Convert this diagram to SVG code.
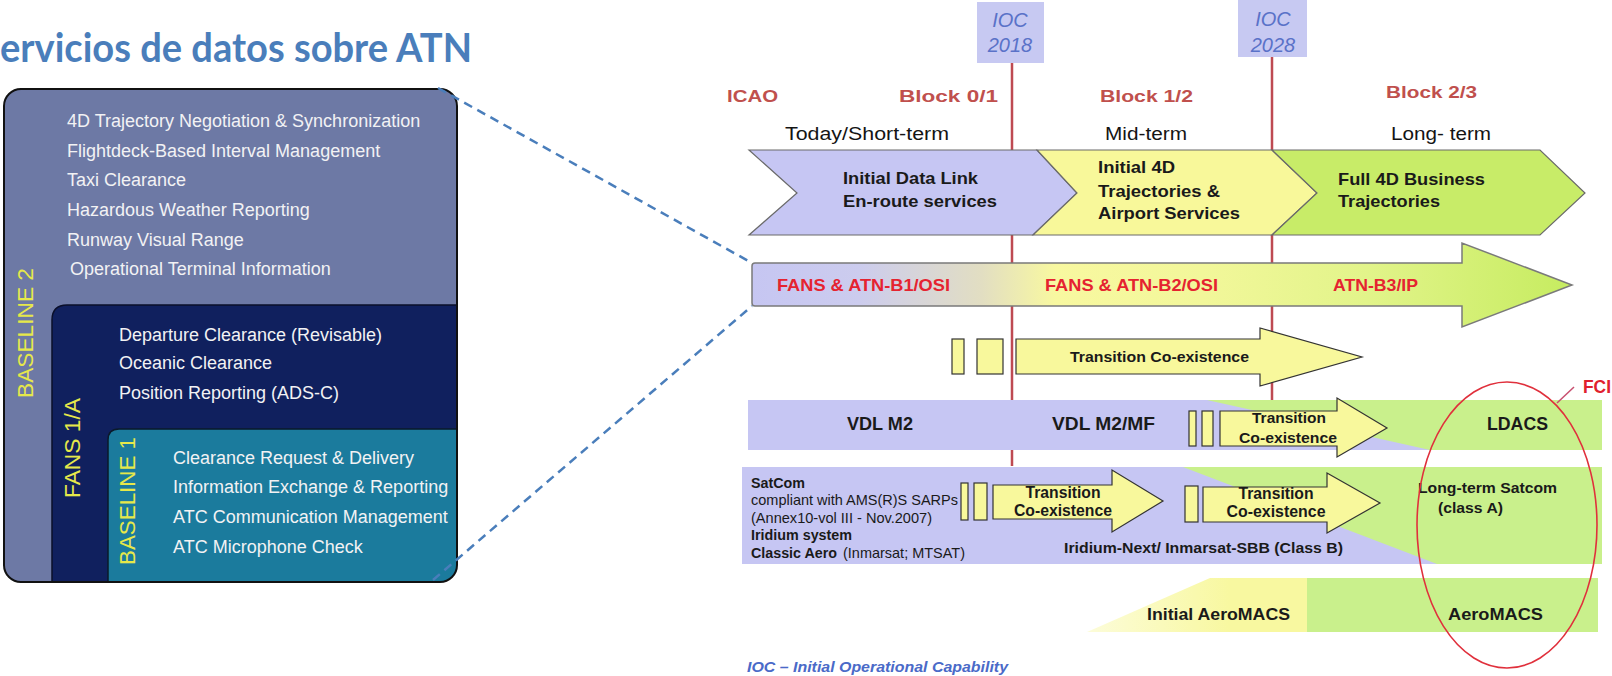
<svg xmlns="http://www.w3.org/2000/svg" width="1612" height="676" viewBox="0 0 1612 676">
  <defs>
    <style>
      text { font-family: "Liberation Sans", Arial, sans-serif; }
      .title { font-family: Lato, "Liberation Sans", sans-serif; font-weight: bold; font-size: 40px; fill: #4a7ebb; }
      .svc { font-size: 18px; fill: #f2f2f4; }
      .vlabel { font-size: 22.5px; fill: #e6e84a; }
      .blk { font-size: 17px; font-weight: bold; fill: #c0504d; }
      .term { font-size: 17.5px; fill: #141414; }
      .ioc { font-size: 20px; font-style: italic; fill: #5a72c8; text-anchor: middle; }
      .bold { font-weight: bold; fill: #1a1a1a; }
      .reg { fill: #1a1a1a; }
      .red { font-size: 17px; font-weight: bold; fill: #e52330; }
      .chev { stroke: #6a6a6a; stroke-width: 1.2; }
      .yel { fill: #f8f89c; stroke: #333; stroke-width: 1.2; }
      .lav { fill: #c6c6f3; }
      .grn { fill: #c9f08c; }
      .mark { stroke: #be4a52; stroke-width: 2.5; }
      .dash { stroke: #4a7ebb; stroke-width: 2.5; stroke-dasharray: 9 6; fill: none; }
    </style>
    <clipPath id="panelClip">
      <rect x="4" y="89" width="453" height="493" rx="17"/>
    </clipPath>
    <linearGradient id="stackGrad" gradientUnits="userSpaceOnUse" x1="752" y1="0" x2="1572" y2="0">
      <stop offset="0" stop-color="#c6c6f2"/>
      <stop offset="0.13" stop-color="#ccccee"/>
      <stop offset="0.28" stop-color="#e2dec2"/>
      <stop offset="0.37" stop-color="#f8f8a0"/>
      <stop offset="0.55" stop-color="#f2f79a"/>
      <stop offset="0.75" stop-color="#e2f48a"/>
      <stop offset="1" stop-color="#c6ec60"/>
    </linearGradient>
    <linearGradient id="aeroGrad" gradientUnits="userSpaceOnUse" x1="1087" y1="0" x2="1230" y2="0">
      <stop offset="0" stop-color="#f8f8a0" stop-opacity="0.4"/>
      <stop offset="1" stop-color="#f8f8a0"/>
    </linearGradient>
  </defs>

  <rect width="1612" height="676" fill="#ffffff"/>

  <!-- heading -->
  <text id="title" class="title" x="0" y="62" textLength="472" lengthAdjust="spacingAndGlyphs">ervicios de datos sobre ATN</text>

  <!-- nested service sets -->
  <g id="baseline2">
    <rect x="4" y="89" width="453" height="493" rx="17" fill="#6d79a5"/>
    <text class="vlabel" transform="translate(33,398) rotate(-90)" textLength="130" lengthAdjust="spacingAndGlyphs">BASELINE 2</text>
    <text class="svc" x="67" y="127">4D Trajectory Negotiation &amp; Synchronization</text>
    <text class="svc" x="67" y="157">Flightdeck-Based Interval Management</text>
    <text class="svc" x="67" y="186">Taxi Clearance</text>
    <text class="svc" x="67" y="216">Hazardous Weather Reporting</text>
    <text class="svc" x="67" y="246">Runway Visual Range</text>
    <text class="svc" x="70" y="275">Operational Terminal Information</text>
  </g>
  <g id="fans1a" clip-path="url(#panelClip)">
    <path d="M52,590 V320 Q52,305 67,305 H470 V590 Z" fill="#10205e" stroke="#0a0f2a" stroke-width="1.5"/>
    <text class="vlabel" transform="translate(80,498) rotate(-90)" textLength="100" lengthAdjust="spacingAndGlyphs">FANS 1/A</text>
    <text class="svc" x="119" y="341">Departure Clearance (Revisable)</text>
    <text class="svc" x="119" y="369">Oceanic Clearance</text>
    <text class="svc" x="119" y="399">Position Reporting (ADS-C)</text>
  </g>
  <g id="baseline1" clip-path="url(#panelClip)">
    <path d="M108,590 V440 Q108,429 119,429 H470 V590 Z" fill="#1b7b9d" stroke="#0a1a2a" stroke-width="1.5"/>
    <text class="vlabel" transform="translate(135,565) rotate(-90)" textLength="128" lengthAdjust="spacingAndGlyphs">BASELINE 1</text>
    <text class="svc" x="173" y="464">Clearance Request &amp; Delivery</text>
    <text class="svc" x="173" y="493">Information Exchange &amp; Reporting</text>
    <text class="svc" x="173" y="523">ATC Communication Management</text>
    <text class="svc" x="173" y="553">ATC Microphone Check</text>
  </g>
  <rect x="4" y="89" width="453" height="493" rx="17" fill="none" stroke="#111" stroke-width="2"/>

  <!-- milestone markers -->
  <g id="ioc2018">
    <line class="mark" x1="1012" y1="63" x2="1012" y2="466"/>
    <rect x="977" y="2" width="67" height="61" fill="#c7c9f2"/>
    <text class="ioc" x="1010" y="27">IOC</text>
    <text class="ioc" x="1010" y="52">2018</text>
  </g>
  <g id="ioc2028">
    <line class="mark" x1="1272" y1="57" x2="1272" y2="400"/>
    <rect x="1238" y="0" width="69" height="57" fill="#c7c9f2"/>
    <text class="ioc" x="1273" y="26">IOC</text>
    <text class="ioc" x="1273" y="52">2028</text>
  </g>

  <!-- period headers -->
  <g id="headers">
    <text class="blk" x="727" y="102" textLength="51" lengthAdjust="spacingAndGlyphs">ICAO</text>
    <text class="blk" x="899" y="102" textLength="99" lengthAdjust="spacingAndGlyphs">Block 0/1</text>
    <text class="blk" x="1100" y="102" textLength="93" lengthAdjust="spacingAndGlyphs">Block 1/2</text>
    <text class="blk" x="1386" y="98" textLength="91" lengthAdjust="spacingAndGlyphs">Block 2/3</text>
    <text class="term" x="785" y="140" textLength="164" lengthAdjust="spacingAndGlyphs">Today/Short-term</text>
    <text class="term" x="1105" y="140" textLength="82" lengthAdjust="spacingAndGlyphs">Mid-term</text>
    <text class="term" x="1391" y="140" textLength="100" lengthAdjust="spacingAndGlyphs">Long- term</text>
  </g>

  <!-- service phases -->
  <g id="phase-initial">
    <polygon class="chev" points="749,150 1037,150 1077,193 1033,235 749,235 797,193" fill="#c6c6f3"/>
    <text class="bold" font-size="16.5" x="843" y="184" textLength="135" lengthAdjust="spacingAndGlyphs">Initial Data Link</text>
    <text class="bold" font-size="16.5" x="843" y="207" textLength="154" lengthAdjust="spacingAndGlyphs">En-route services</text>
  </g>
  <g id="phase-4d">
    <polygon class="chev" points="1037,150 1272,150 1317,193 1272,235 1033,235 1077,193" fill="#f8f89a"/>
    <text class="bold" font-size="16.5" x="1098" y="173" textLength="77" lengthAdjust="spacingAndGlyphs">Initial 4D</text>
    <text class="bold" font-size="16.5" x="1098" y="197" textLength="122" lengthAdjust="spacingAndGlyphs">Trajectories &amp;</text>
    <text class="bold" font-size="16.5" x="1098" y="219" textLength="142" lengthAdjust="spacingAndGlyphs">Airport Services</text>
  </g>
  <g id="phase-full">
    <polygon class="chev" points="1272,150 1540,150 1585,193 1540,235 1272,235 1317,193" fill="#c8ec68"/>
    <text class="bold" font-size="16.5" x="1338" y="185" textLength="147" lengthAdjust="spacingAndGlyphs">Full 4D Business</text>
    <text class="bold" font-size="16.5" x="1338" y="207" textLength="102" lengthAdjust="spacingAndGlyphs">Trajectories</text>
  </g>

  <!-- network stack evolution -->
  <g id="stack">
    <path d="M755,263 H1462 V243 L1572,285 L1462,327 V306 H755 Q752,306 752,303 V266 Q752,263 755,263 Z" fill="url(#stackGrad)" stroke="#7a7a7a" stroke-width="1.5"/>
    <text class="red" x="777" y="291" textLength="173" lengthAdjust="spacingAndGlyphs">FANS &amp; ATN-B1/OSI</text>
    <text class="red" x="1045" y="291" textLength="173" lengthAdjust="spacingAndGlyphs">FANS &amp; ATN-B2/OSI</text>
    <text class="red" x="1333" y="291" textLength="85" lengthAdjust="spacingAndGlyphs">ATN-B3/IP</text>
  </g>

  <g id="stack-transition">
    <rect class="yel" x="952" y="339" width="12" height="35"/>
    <rect class="yel" x="977" y="339" width="26" height="35"/>
    <polygon class="yel" points="1016,339 1260,339 1260,328 1362,357 1260,386 1260,374 1016,374"/>
    <text class="bold" font-size="15.5" x="1070" y="362" textLength="179" lengthAdjust="spacingAndGlyphs">Transition Co-existence</text>
  </g>

  <!-- terrestrial link -->
  <g id="vdl">
    <rect class="lav" x="748" y="400" width="854" height="50"/>
    <polygon class="grn" points="1207,400 1602,400 1602,450 1430,450"/>
    <text class="bold" font-size="18" x="847" y="430" textLength="66" lengthAdjust="spacingAndGlyphs">VDL M2</text>
    <text class="bold" font-size="18" x="1052" y="430" textLength="103" lengthAdjust="spacingAndGlyphs">VDL M2/MF</text>
    <rect class="yel" x="1189" y="411" width="7" height="35"/>
    <rect class="yel" x="1202" y="411" width="11" height="35"/>
    <polygon class="yel" points="1220,411 1337,411 1337,398 1387,428 1337,457 1337,446 1220,446"/>
    <text class="bold" font-size="15" text-anchor="middle" x="1289" y="423" textLength="74" lengthAdjust="spacingAndGlyphs">Transition</text>
    <text class="bold" font-size="15" text-anchor="middle" x="1288" y="443" textLength="98" lengthAdjust="spacingAndGlyphs">Co-existence</text>
    <text class="bold" font-size="18" x="1487" y="430" textLength="61" lengthAdjust="spacingAndGlyphs">LDACS</text>
  </g>

  <!-- satellite link -->
  <g id="satcom">
    <rect class="lav" x="742" y="467" width="860" height="97"/>
    <polygon class="grn" points="1183,467 1602,467 1602,564 1437,564"/>
    <text class="bold" font-size="14.5" x="751" y="488" textLength="54" lengthAdjust="spacingAndGlyphs">SatCom</text>
    <text class="reg" font-size="14.5" x="751" y="505" textLength="207" lengthAdjust="spacingAndGlyphs">compliant with AMS(R)S SARPs</text>
    <text class="reg" font-size="14.5" x="751" y="523" textLength="181" lengthAdjust="spacingAndGlyphs">(Annex10-vol III - Nov.2007)</text>
    <text class="bold" font-size="14.5" x="751" y="540" textLength="101" lengthAdjust="spacingAndGlyphs">Iridium system</text>
    <text class="bold" font-size="14.5" x="751" y="558" textLength="86" lengthAdjust="spacingAndGlyphs">Classic Aero</text>
    <text class="reg" font-size="14.5" x="843" y="558" textLength="122" lengthAdjust="spacingAndGlyphs">(Inmarsat; MTSAT)</text>
    <rect class="yel" x="961" y="483" width="7" height="37"/>
    <rect class="yel" x="974" y="483" width="13" height="37"/>
    <polygon class="yel" points="993,485 1112,485 1112,470 1163,501 1112,532 1112,519 993,519"/>
    <text class="bold" font-size="16" text-anchor="middle" x="1063" y="498" textLength="75" lengthAdjust="spacingAndGlyphs">Transition</text>
    <text class="bold" font-size="16" text-anchor="middle" x="1063" y="516" textLength="98" lengthAdjust="spacingAndGlyphs">Co-existence</text>
    <rect class="yel" x="1185" y="486" width="13" height="36"/>
    <polygon class="yel" points="1203,487 1327,487 1327,473 1380,503 1327,533 1327,522 1203,522"/>
    <text class="bold" font-size="16" text-anchor="middle" x="1276" y="499" textLength="75" lengthAdjust="spacingAndGlyphs">Transition</text>
    <text class="bold" font-size="16" text-anchor="middle" x="1276" y="517" textLength="99" lengthAdjust="spacingAndGlyphs">Co-existence</text>
    <text class="bold" font-size="15" x="1064" y="553" textLength="279" lengthAdjust="spacingAndGlyphs">Iridium-Next/ Inmarsat-SBB (Class B)</text>
    <text class="bold" font-size="15" x="1418" y="493" textLength="139" lengthAdjust="spacingAndGlyphs">Long-term Satcom</text>
    <text class="bold" font-size="15" x="1438" y="513" textLength="65" lengthAdjust="spacingAndGlyphs">(class A)</text>
  </g>

  <!-- airport surface link -->
  <g id="aeromacs">
    <polygon points="1087,632 1210,578 1307,578 1307,632" fill="url(#aeroGrad)"/>
    <rect class="grn" x="1307" y="578" width="291" height="54"/>
    <text class="bold" font-size="16" x="1147" y="620" textLength="143" lengthAdjust="spacingAndGlyphs">Initial AeroMACS</text>
    <text class="bold" font-size="16" x="1448" y="620" textLength="95" lengthAdjust="spacingAndGlyphs">AeroMACS</text>
  </g>

  <!-- future communications infrastructure -->
  <g id="fci">
    <ellipse cx="1507" cy="525" rx="90" ry="143" fill="none" stroke="#e0303c" stroke-width="1.6"/>
    <line x1="1557" y1="403" x2="1574" y2="387" stroke="#c85070" stroke-width="1.5"/>
    <text x="1583" y="393" font-size="18" font-weight="bold" fill="#e0202e" textLength="28" lengthAdjust="spacingAndGlyphs">FCI</text>
  </g>

  <!-- zoom-out guides from the service panel to the stack bar -->
  <g id="connectors">
    <line class="dash" x1="438" y1="88" x2="752" y2="263"/>
    <line class="dash" x1="433" y1="580" x2="752" y2="306"/>
  </g>

  <text id="legend" x="747" y="672" font-size="15.5" font-weight="bold" font-style="italic" fill="#4a6ac8" textLength="261" lengthAdjust="spacingAndGlyphs">IOC – Initial Operational Capability</text>
</svg>
